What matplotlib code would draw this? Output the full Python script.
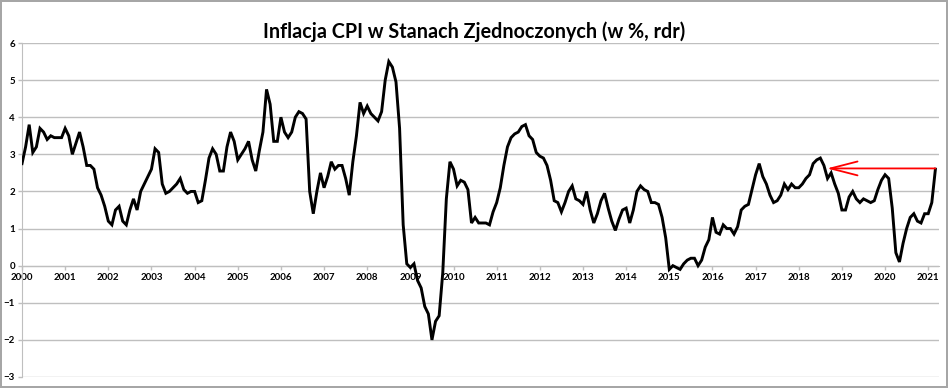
import matplotlib.pyplot as plt
import numpy as np

# US CPI inflation y/y, monthly Jan 2000 - Mar 2021
cpi_2000s = [2.75, 3.2, 3.8, 3.05, 3.2, 3.7, 3.6, 3.4, 3.5, 3.45, 3.45, 3.45,
             3.7, 3.5, 3.0, 3.3, 3.6, 3.2, 2.7, 2.7, 2.6, 2.1, 1.9, 1.6,
             1.2, 1.1, 1.5, 1.6, 1.2, 1.1, 1.5, 1.8, 1.5, 2.0, 2.2, 2.4,
             2.6, 3.15, 3.05, 2.2, 1.95, 2.0, 2.1, 2.2, 2.35, 2.05, 1.95, 2.0,
             2.0, 1.7, 1.75, 2.3, 2.9, 3.15, 3.0, 2.55, 2.55, 3.2, 3.6, 3.35,
             2.85, 3.0, 3.15, 3.35, 2.85, 2.55, 3.1, 3.6, 4.75, 4.35, 3.35, 3.35,
             4.0, 3.6, 3.45, 3.6, 4.0, 4.15, 4.1, 3.95, 2.0, 1.4, 2.0, 2.5,
             2.1, 2.4, 2.8, 2.6, 2.7, 2.7, 2.35, 1.9, 2.8, 3.5, 4.4, 4.1,
             4.3, 4.1, 4.0, 3.9, 4.15, 5.0, 5.5, 5.35, 4.95, 3.7, 1.1, 0.05,
             -0.05, 0.05, -0.4, -0.6, -1.1, -1.3, -2.0, -1.5, -1.35, -0.2, 1.8, 2.8]
cpi_2010s = [2.6, 2.15, 2.3, 2.25, 2.05, 1.15, 1.3, 1.15, 1.15, 1.15, 1.1, 1.45,
             1.7, 2.1, 2.7, 3.2, 3.45, 3.55, 3.6, 3.75, 3.8, 3.5, 3.4, 3.05,
             2.95, 2.9, 2.7, 2.3, 1.75, 1.7, 1.45, 1.7, 2.0, 2.15, 1.8, 1.75,
             1.65, 2.0, 1.5, 1.15, 1.4, 1.75, 1.95, 1.55, 1.2, 0.95, 1.25, 1.5,
             1.55, 1.15, 1.5, 2.0, 2.15, 2.05, 2.0, 1.7, 1.7, 1.65, 1.3, 0.75,
             -0.1, 0.0, -0.05, -0.1, 0.05, 0.15, 0.2, 0.2, 0.0, 0.15, 0.5, 0.7,
             1.3, 0.9, 0.85, 1.1, 1.0, 1.0, 0.85, 1.05, 1.5, 1.6, 1.65, 2.05,
             2.45, 2.75, 2.4, 2.2, 1.9, 1.7, 1.75, 1.9, 2.2, 2.05, 2.2, 2.1,
             2.1, 2.2, 2.35, 2.45, 2.75, 2.85, 2.9, 2.7, 2.35, 2.5, 2.2, 1.95,
             1.5, 1.5, 1.85, 2.0, 1.8, 1.7, 1.8, 1.75, 1.7, 1.75, 2.05, 2.3]
cpi_2020s = [2.45, 2.35, 1.55, 0.35, 0.1, 0.6, 1.0, 1.3, 1.4, 1.2, 1.15, 1.4,
             1.4, 1.7, 2.6]
cpi = cpi_2000s + cpi_2010s + cpi_2020s

years = list(range(2000, 2022))
y_ticks = list(range(-3, 7))
arrow_from = 254      # Mar 2021 (last reading)
arrow_to = 223.8      # mid 2018 peak
arrow_level = 2.62

months = np.arange(len(cpi))
grid_col = '#BFBFBF'

fig = plt.figure(figsize=(9.48, 3.88), dpi=100, edgecolor='#A6A6A6', linewidth=1.5)
ax = fig.add_axes([22 / 948, 1 - 377 / 388, 917 / 948, 334 / 388])

ax.plot(months, cpi, color='black', lw=2.1, solid_joinstyle='miter', zorder=3)

ax.annotate('', xy=(arrow_to, arrow_level), xytext=(arrow_from, arrow_level),
            arrowprops=dict(arrowstyle='->, head_length=1.95, head_width=0.5',
                            color='#FF0000', lw=1.3, shrinkA=0, shrinkB=0),
            zorder=4)

ax.set_xlim(0, 255)
ax.set_ylim(-3, 6)
ax.set_yticks(y_ticks)
ax.set_xticks([12 * (y - 2000) for y in years])
ax.set_xticklabels([str(y) for y in years])

ax.grid(axis='y', color=grid_col, lw=1)
ax.set_axisbelow(True)
for s in ['top', 'right']:
    ax.spines[s].set_visible(False)
ax.spines['left'].set_color(grid_col)
ax.spines['bottom'].set_color(grid_col)
ax.spines['bottom'].set_position(('data', 0))
ax.tick_params(axis='both', colors=grid_col, length=3, width=1, pad=2)
for lab in ax.get_xticklabels() + ax.get_yticklabels():
    lab.set_fontfamily('Lato')
    lab.set_fontweight('bold')
    lab.set_fontsize(7)
    lab.set_color('black')

fig.suptitle('Inflacja CPI w Stanach Zjednoczonych (w %, rdr)', family='Lato',
             fontweight='bold', fontsize=14.2, y=0.945)

fig.savefig('out.png', dpi=100)
